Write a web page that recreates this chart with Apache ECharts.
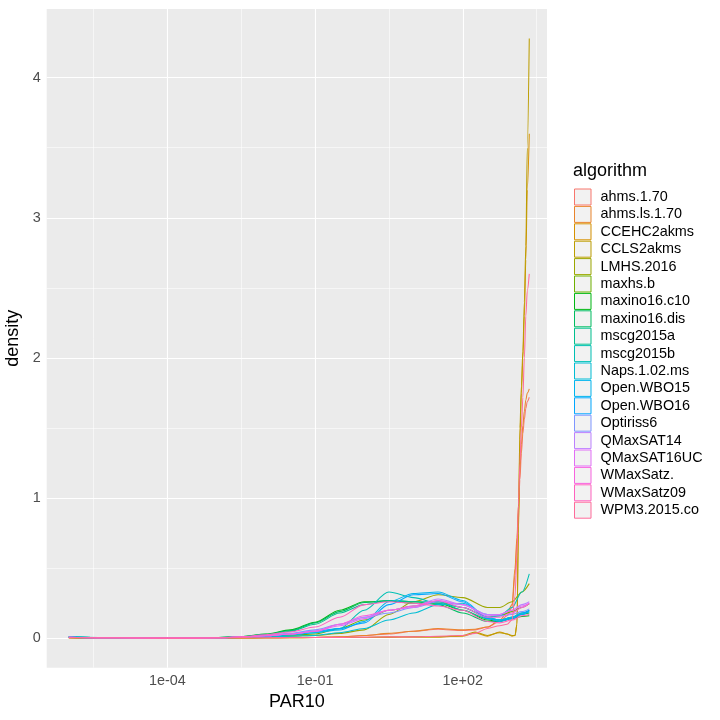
<!DOCTYPE html>
<html><head><meta charset="utf-8">
<script src="https://cdn.jsdelivr.net/npm/echarts@6/dist/echarts.min.js"></script>
<style>html,body{margin:0;padding:0;background:#fff}#c{width:720px;height:720px}</style>
</head><body><div id="c"></div>
<script>
// x positions are log10(PAR10)
const algorithms = ["ahms.1.70","ahms.ls.1.70","CCEHC2akms","CCLS2akms","LMHS.2016","maxhs.b","maxino16.c10","maxino16.dis","mscg2015a","mscg2015b","Naps.1.02.ms","Open.WBO15","Open.WBO16","Optiriss6","QMaxSAT14","QMaxSAT16UC","WMaxSatz.","WMaxSatz09","WPM3.2015.co"];
const xTicks = [-4, -1, 2];
const xTickLabels = ["1e-04", "1e-01", "1e+02"];
const yTicks = [0, 1, 2, 3, 4];

// spiking group (fine grid near the upper end)
const logA = [-6,-5,-4,-3,-2.5,-2,-1.5,-1,-0.5,0,0.5,1,1.5,2,2.25,2.5,2.75,2.9,3.0,3.06,3.1,3.13,3.16,3.19,3.22,3.25,3.28,3.31,3.35];
const ahms170   = [0.004,0.002,0.001,0.002,0.003,0.004,0.005,0.006,0.01,0.02,0.03,0.05,0.065,0.055,0.06,0.08,0.12,0.16,0.22,0.45,0.68,0.9,1.13,1.32,1.46,1.56,1.64,1.69,1.72];
const ahmsls170 = [0.004,0.002,0.001,0.002,0.003,0.004,0.005,0.006,0.01,0.02,0.035,0.05,0.07,0.06,0.065,0.08,0.13,0.18,0.24,0.5,0.72,0.95,1.2,1.38,1.52,1.62,1.7,1.75,1.78];
const ccehc     = [0.004,0.002,0.001,0.001,0.002,0.003,0.004,0.005,0.005,0.006,0.008,0.01,0.01,0.015,0.04,0.015,0.045,0.03,0.015,0.02,0.1,0.75,1.42,1.75,2.0,2.3,2.7,3.2,3.6];
const ccls      = [0.004,0.002,0.001,0.001,0.002,0.003,0.004,0.005,0.005,0.006,0.008,0.01,0.01,0.02,0.045,0.02,0.04,0.03,0.02,0.02,0.1,0.8,1.5,1.8,2.05,2.4,2.8,3.5,4.28];
const wpm3      = [0.004,0.002,0.001,0.002,0.003,0.004,0.005,0.005,0.006,0.008,0.01,0.01,0.015,0.02,0.035,0.07,0.09,0.1,0.13,0.3,0.6,0.95,1.25,1.5,1.72,2.0,2.3,2.48,2.6];

// mid-bump group
const logB = [-6,-5,-4,-3.5,-3,-2.5,-2,-1.5,-1,-0.5,0,0.5,1,1.5,2,2.5,2.75,3,3.2,3.35];
const lmhs      = [0.006,0.002,0.001,0.001,0.003,0.006,0.01,0.015,0.02,0.035,0.06,0.17,0.26,0.31,0.29,0.22,0.22,0.26,0.33,0.39];
const maxhsb    = [0.006,0.002,0.001,0.001,0.003,0.008,0.015,0.022,0.03,0.07,0.13,0.2,0.23,0.26,0.22,0.15,0.16,0.19,0.22,0.245];
const maxinoC10 = [0.009,0.003,0.001,0.002,0.005,0.012,0.03,0.06,0.115,0.2,0.26,0.265,0.25,0.25,0.2,0.13,0.12,0.14,0.155,0.16];
const maxinoDis = [0.009,0.003,0.001,0.002,0.005,0.012,0.028,0.055,0.11,0.19,0.255,0.27,0.26,0.24,0.18,0.12,0.12,0.15,0.17,0.18];
const mscgA     = [0.009,0.003,0.001,0.002,0.005,0.011,0.026,0.05,0.1,0.18,0.24,0.27,0.26,0.26,0.2,0.14,0.13,0.15,0.18,0.19];
const mscgB     = [0.01,0.003,0.001,0.002,0.004,0.008,0.015,0.025,0.04,0.07,0.2,0.33,0.29,0.25,0.22,0.15,0.16,0.22,0.33,0.46];
const naps      = [0.008,0.003,0.001,0.001,0.003,0.006,0.01,0.015,0.02,0.04,0.07,0.13,0.18,0.24,0.25,0.15,0.13,0.15,0.18,0.2];
const openWBO15 = [0.008,0.003,0.001,0.001,0.003,0.008,0.015,0.025,0.04,0.06,0.12,0.26,0.32,0.33,0.27,0.15,0.13,0.15,0.18,0.19];
const openWBO16 = [0.008,0.003,0.001,0.001,0.003,0.008,0.016,0.03,0.05,0.07,0.11,0.24,0.31,0.32,0.26,0.14,0.12,0.14,0.17,0.2];
const optiriss6 = [0.007,0.003,0.001,0.001,0.003,0.009,0.02,0.035,0.06,0.1,0.15,0.18,0.22,0.26,0.24,0.17,0.16,0.17,0.19,0.21];
const qmax14    = [0.007,0.003,0.001,0.001,0.003,0.008,0.018,0.03,0.05,0.1,0.15,0.2,0.23,0.28,0.24,0.17,0.17,0.2,0.24,0.26];
const qmax16uc  = [0.007,0.003,0.001,0.001,0.003,0.008,0.018,0.03,0.05,0.09,0.14,0.2,0.22,0.27,0.24,0.16,0.17,0.2,0.23,0.25];
const wmaxsatz  = [0.007,0.003,0.001,0.001,0.003,0.008,0.018,0.03,0.05,0.1,0.16,0.2,0.23,0.27,0.22,0.15,0.15,0.18,0.22,0.25];
const wmaxsatz09= [0.007,0.003,0.001,0.001,0.004,0.01,0.025,0.045,0.08,0.15,0.24,0.26,0.25,0.23,0.2,0.12,0.11,0.13,0.16,0.17];

const seriesValues = [
  [logA, ahms170], [logA, ahmsls170], [logA, ccehc], [logA, ccls],
  [logB, lmhs], [logB, maxhsb], [logB, maxinoC10], [logB, maxinoDis],
  [logB, mscgA], [logB, mscgB], [logB, naps], [logB, openWBO15], [logB, openWBO16],
  [logB, optiriss6], [logB, qmax14], [logB, qmax16uc], [logB, wmaxsatz], [logB, wmaxsatz09],
  [logA, wpm3]
];

// ggplot2 hue palette (HCL, l=65, c=100)
function hcl(h, c, l) {
  const hr = h * Math.PI / 180;
  const U = c * Math.cos(hr), V = c * Math.sin(hr);
  const Y = l > 8 ? 100 * Math.pow((l + 16) / 116, 3) : 100 * l / 903.3;
  const Xn = 95.047, Yn = 100, Zn = 108.883;
  const t = Xn + 15 * Yn + 3 * Zn;
  const un = 4 * Xn / t, vn = 9 * Yn / t;
  const u = U / (13 * l) + un, v = V / (13 * l) + vn;
  const X = 9 * Y * u / (4 * v);
  const Z = 3 * Y / v - X / 3 - 5 * Y;
  const lin = [
    (3.240479 * X - 1.537150 * Y - 0.498535 * Z) / 100,
    (-0.969256 * X + 1.875992 * Y + 0.041556 * Z) / 100,
    (0.055648 * X - 0.204043 * Y + 1.057311 * Z) / 100
  ];
  return '#' + lin.map(function (x) {
    let g = x <= 0.0031308 ? 12.92 * x : 1.055 * Math.pow(x, 1 / 2.4) - 0.055;
    g = Math.max(0, Math.min(1, g));
    return Math.round(g * 255).toString(16).padStart(2, '0');
  }).join('');
}
const n = algorithms.length;
const colors = algorithms.map(function (_, i) { return hcl(15 + i * 360 / n, 100, 65); });

const font = 'Liberation Sans, Arial, Helvetica, sans-serif';
const XMIN = -6.449, XMAX = 3.71, YMIN = -0.21, YMAX = 4.49;

const gridSeries = {
  type: 'line', data: [], silent: true, z: 1,
  markLine: {
    silent: true, symbol: 'none', animation: false, z: 1,
    label: { show: false },
    emphasis: { disabled: true },
    data: [].concat(
      [-5.5, -2.5, 0.5, 3.5].map(function (v) { return { xAxis: v, lineStyle: { color: '#fff', width: 0.55, type: 'solid' } }; }),
      [0.5, 1.5, 2.5, 3.5].map(function (v) { return { yAxis: v, lineStyle: { color: '#fff', width: 0.55, type: 'solid' } }; }),
      xTicks.map(function (v) { return { xAxis: v, lineStyle: { color: '#fff', width: 1.1, type: 'solid' } }; }),
      yTicks.map(function (v) { return { yAxis: v, lineStyle: { color: '#fff', width: 1.1, type: 'solid' } }; })
    )
  }
};

const series = [gridSeries].concat(algorithms.map(function (name, i) {
  const xs = seriesValues[i][0], ys = seriesValues[i][1];
  return {
    name: name, type: 'line', z: 10,
    data: xs.map(function (x, k) { return [x, ys[k]]; }),
    showSymbol: false, symbol: 'none', smooth: 0.3, smoothMonotone: 'x',
    lineStyle: { color: colors[i], width: 1.05 },
    itemStyle: { color: colors[i] },
    emphasis: { disabled: true },
    animation: false
  };
}));

const chart = echarts.init(document.getElementById('c'), null, { renderer: 'canvas' });
chart.setOption({
  backgroundColor: '#ffffff',
  animation: false,
  grid: { left: 46.7, top: 9, right: 173, bottom: 52.3, show: true, backgroundColor: '#EBEBEB', borderWidth: 0,
          containLabel: false, outerBoundsMode: 'none' },
  title: { text: 'algorithm', left: 573, top: 162, padding: 0, textStyle: { fontFamily: font, fontSize: 18, fontWeight: 'normal', color: '#000' } },
  legend: {
    orient: 'vertical', left: 574, top: 188.5, padding: 0,
    itemWidth: 16.5, itemHeight: 16, itemGap: 0.4, icon: 'rect',
    selectedMode: false,
    textStyle: { fontFamily: font, fontSize: 14.4, lineHeight: 14, color: '#000', padding: [0, 0, 0, 4.5] },
    data: algorithms.map(function (name, i) {
      return { name: name, icon: 'rect', itemStyle: { color: '#F2F2F2', borderColor: colors[i], borderWidth: 1 } };
    })
  },
  xAxis: {
    type: 'value', min: XMIN, max: XMAX,
    name: 'PAR10', nameLocation: 'middle', nameGap: 24,
    nameTextStyle: { fontFamily: font, fontSize: 18, color: '#000' },
    axisLine: { show: false },
    axisTick: { show: true, length: 3.7, lineStyle: { color: '#333333', width: 1 }, customValues: xTicks },
    axisLabel: { customValues: xTicks, margin: 6, fontFamily: font, fontSize: 14.4, color: '#4D4D4D',
      formatter: function (v) { const k = xTicks.indexOf(v); return k >= 0 ? xTickLabels[k] : ''; } },
    splitLine: { show: false }
  },
  yAxis: {
    type: 'value', min: YMIN, max: YMAX,
    name: 'density', nameLocation: 'middle', nameGap: 19, nameRotate: 90,
    nameTextStyle: { fontFamily: font, fontSize: 18, color: '#000' },
    axisLine: { show: false },
    axisTick: { show: true, length: 3.7, lineStyle: { color: '#333333', width: 1 }, customValues: yTicks },
    axisLabel: { customValues: yTicks, margin: 6, fontFamily: font, fontSize: 14.4, color: '#4D4D4D',
      formatter: function (v) { return String(v); } },
    splitLine: { show: false }
  },
  series: series
});
</script>
</body></html>
